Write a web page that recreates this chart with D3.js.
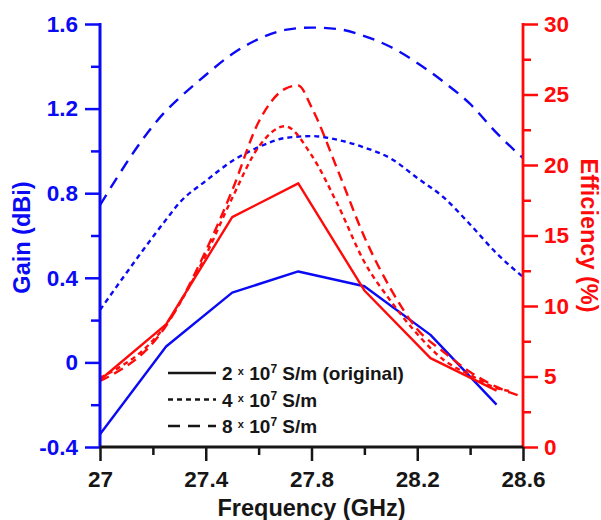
<!DOCTYPE html>
<html>
<head>
<meta charset="utf-8">
<script src="https://cdn.jsdelivr.net/npm/d3@7"></script>
<style>
  html, body { margin: 0; padding: 0; background: #fff; }
  svg text { font-family: Arial, "Liberation Sans", sans-serif; font-weight: bold; }
</style>
</head>
<body>
<svg id="chart" width="601" height="520"></svg>
<script>
// Frequency sweep for the original conductivity (coarse simulation grid)
const freqCoarse = [27, 27.25, 27.5, 27.75, 28, 28.25, 28.5];
const gain2e7 = [-0.34, 0.075, 0.33, 0.43, 0.36, 0.13, -0.20];
const eff2e7  = [4.75, 8.7, 16.3, 18.7, 11.1, 6.3, 4.0];

// Finer sweep used for the higher-conductivity gain curves
const freqGainFine = [27, 27.25, 27.3, 27.4, 27.5, 27.6, 27.7, 27.8, 27.9, 28.0, 28.1, 28.2, 28.3, 28.4, 28.5, 28.6];
const gain4e7 = [0.248, 0.675, 0.754, 0.858, 0.952, 1.018, 1.061, 1.070, 1.052, 1.016, 0.964, 0.872, 0.780, 0.652, 0.516, 0.404];
const gain8e7 = [0.744, 1.19, 1.25, 1.359, 1.458, 1.529, 1.572, 1.583, 1.576, 1.543, 1.491, 1.416, 1.326, 1.222, 1.085, 0.966];

// Efficiency sweeps for the higher-conductivity cases
const freqEff4e7 = [27, 27.25, 27.4, 27.5, 27.6, 27.7, 27.8, 27.9, 28.0, 28.1, 28.2, 28.3, 28.4, 28.5, 28.55];
const eff4e7 = [4.9, 8.7, 13.6, 17.66, 21.28, 22.75, 20.7, 17.16, 13.12, 10.35, 8.01, 6.17, 5.11, 4.18, 3.97];
const freqEff8e7 = [27, 27.25, 27.4, 27.5, 27.6, 27.7, 27.75, 27.8, 27.9, 28.0, 28.1, 28.2, 28.3, 28.4, 28.5, 28.6];
const eff8e7 = [4.68, 8.6, 13.9, 18.2, 23.05, 25.4, 25.64, 24.1, 19.6, 14.9, 11.2, 8.35, 6.74, 5.32, 4.26, 3.55];

// Axis ticks
const freqTicks = [27, 27.4, 27.8, 28.2, 28.6];
const gainTicks = [-0.4, 0, 0.4, 0.8, 1.2, 1.6];
const effTicks = [0, 5, 10, 15, 20, 25, 30];

// Legend entries
const legendLabels = ["2", "4", "8"];

const BLUE = "#0a0af5";
const RED = "#ff0a0a";
const INK = "#161616";

const svg = d3.select("#chart");
const plotL = 100, plotR = 523, plotT = 24, plotB = 447;

const x = d3.scaleLinear().domain([27, 28.6]).range([plotL, plotR]);
const yG = d3.scaleLinear().domain([-0.4, 1.6]).range([plotB, plotT]);
const yE = d3.scaleLinear().domain([0, 30]).range([plotB, plotT]);

const DOT = "5,4";
const LONG = "12,8";
const TICK_FONT = 22.5;
const TITLE_FONT = 23.5;

function drawLine(xs, ys, yScale, color, dash, curve) {
  const pts = xs.map((f, i) => [f, ys[i]]);
  const line = d3.line().x(d => x(d[0])).y(d => yScale(d[1])).curve(curve || d3.curveLinear);
  svg.append("path")
    .attr("d", line(pts))
    .attr("fill", "none")
    .attr("stroke", color)
    .attr("stroke-width", 2.4)
    .attr("stroke-linejoin", "round")
    .attr("stroke-dasharray", dash || null);
}

// Gain curves (blue, left axis)
drawLine(freqGainFine, gain8e7, yG, BLUE, LONG, d3.curveMonotoneX);
drawLine(freqGainFine, gain4e7, yG, BLUE, DOT, d3.curveMonotoneX);
drawLine(freqCoarse, gain2e7, yG, BLUE);

// Efficiency curves (red, right axis)
drawLine(freqEff8e7, eff8e7, yE, RED, "10,6", d3.curveMonotoneX);
drawLine(freqEff4e7, eff4e7, yE, RED, DOT, d3.curveMonotoneX);
drawLine(freqCoarse, eff2e7, yE, RED);

// Left (gain) axis
const gAxL = svg.append("g").attr("transform", `translate(${plotL},0)`)
  .call(d3.axisLeft(yG).tickValues(gainTicks).tickSize(15).tickPadding(7)
    .tickFormat(d => d === 0 ? "0" : d.toFixed(1)));
gAxL.call(g => g.select(".domain").remove());
gAxL.selectAll(".tick line").attr("stroke", BLUE).attr("stroke-width", 2.5);
gAxL.selectAll(".tick text").attr("fill", BLUE).attr("font-size", TICK_FONT).attr("font-family", null);
svg.append("g").attr("transform", `translate(${plotL},0)`)
  .call(d3.axisLeft(yG).tickValues(d3.range(-0.2, 1.6, 0.4)).tickSize(9).tickFormat(""))
  .call(g => g.select(".domain").remove())
  .selectAll(".tick line").attr("stroke", BLUE).attr("stroke-width", 2.5);
svg.append("line").attr("x1", plotL).attr("x2", plotL).attr("y1", yG(1.6) - 1).attr("y2", yG(-0.4) + 1)
  .attr("stroke", BLUE).attr("stroke-width", 3);

// Right (efficiency) axis
const gAxR = svg.append("g").attr("transform", `translate(${plotR},0)`)
  .call(d3.axisRight(yE).tickValues(effTicks).tickSize(15).tickPadding(6));
gAxR.call(g => g.select(".domain").remove());
gAxR.selectAll(".tick line").attr("stroke", RED).attr("stroke-width", 2.5);
gAxR.selectAll(".tick text").attr("fill", RED).attr("font-size", TICK_FONT).attr("font-family", null);
svg.append("g").attr("transform", `translate(${plotR},0)`)
  .call(d3.axisRight(yE).tickValues(d3.range(2.5, 30, 5)).tickSize(8).tickFormat(""))
  .call(g => g.select(".domain").remove())
  .selectAll(".tick line").attr("stroke", RED).attr("stroke-width", 2.5);
svg.append("line").attr("x1", plotR).attr("x2", plotR).attr("y1", yE(30) - 1).attr("y2", yE(0) + 1)
  .attr("stroke", RED).attr("stroke-width", 2.8);

// Bottom (frequency) axis
const gAxB = svg.append("g").attr("transform", `translate(0,${plotB})`)
  .call(d3.axisBottom(x).tickValues(freqTicks).tickSize(14).tickPadding(10)
    .tickFormat(d => String(+d.toFixed(1))));
gAxB.call(g => g.select(".domain").remove());
gAxB.selectAll(".tick line").attr("stroke", INK).attr("stroke-width", 2.5);
gAxB.selectAll(".tick text").attr("fill", INK).attr("font-size", TICK_FONT).attr("font-family", null);
svg.append("g").attr("transform", `translate(0,${plotB})`)
  .call(d3.axisBottom(x).tickValues(d3.range(27.2, 28.6, 0.4)).tickSize(8).tickFormat(""))
  .call(g => g.select(".domain").remove())
  .selectAll(".tick line").attr("stroke", INK).attr("stroke-width", 2.5);
svg.append("line").attr("x1", plotL).attr("x2", plotR).attr("y1", plotB).attr("y2", plotB)
  .attr("stroke", INK).attr("stroke-width", 3);

// Axis titles
svg.append("text").attr("transform", `translate(30,${(plotT + plotB) / 2 + 2}) rotate(-90)`)
  .attr("text-anchor", "middle").attr("fill", BLUE).attr("font-size", TITLE_FONT).text("Gain (dBi)");
svg.append("text").attr("transform", `translate(581,${(plotT + plotB) / 2}) rotate(90)`)
  .attr("text-anchor", "middle").attr("fill", RED).attr("font-size", TITLE_FONT).text("Efficiency (%)");
svg.append("text").attr("x", (plotL + plotR) / 2).attr("y", 516)
  .attr("text-anchor", "middle").attr("fill", INK).attr("font-size", TITLE_FONT).text("Frequency (GHz)");

// Legend
const legendDash = [null, DOT, LONG];
const legendSuffix = [" S/m (original)", " S/m", " S/m"];
legendLabels.forEach((lab, i) => {
  const cy = 373 + i * 26.5;
  svg.append("line").attr("x1", 168).attr("x2", 216).attr("y1", cy).attr("y2", cy)
    .attr("stroke", INK).attr("stroke-width", 2.6)
    .attr("stroke-dasharray", legendDash[i]);
  const t = svg.append("text").attr("x", 222).attr("y", cy + 7).attr("fill", INK).attr("font-size", 19);
  t.append("tspan").text(lab + " ");
  t.append("tspan").attr("font-size", 11).attr("dy", -5).text("x");
  t.append("tspan").attr("dy", 5).text(" 10");
  t.append("tspan").attr("font-size", 12).attr("dy", -7).text("7");
  t.append("tspan").attr("dy", 7).text(legendSuffix[i]);
});
</script>
</body>
</html>
